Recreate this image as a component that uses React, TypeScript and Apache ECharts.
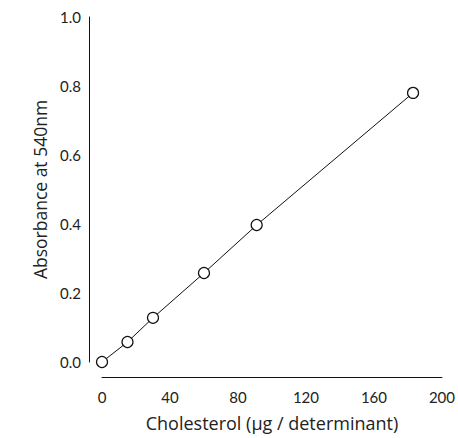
import React, { useEffect, useRef } from "react";
import * as echarts from "echarts";

const cholesterol = [0, 15, 30, 60, 91, 183];
const absorbance = [0.0, 0.058, 0.128, 0.258, 0.397, 0.78];
const xTicks = [0, 40, 80, 120, 160, 200];
const yTicks = [0.0, 0.2, 0.4, 0.6, 0.8, 1.0];

const FONT = "Lato";
const TITLE_FONT = "Open Sans";
const INK = "#222";

export default function App() {
  const ref = useRef<HTMLDivElement>(null);
  useEffect(() => {
    if (!ref.current) return;
    const chart = echarts.init(ref.current, undefined, { renderer: "svg" });
    chart.setOption({
      animation: false,
      backgroundColor: "#fff",
      grid: { left: 102, right: 12, top: 17, bottom: 76 },
      xAxis: {
        type: "value",
        min: xTicks[0],
        max: xTicks[xTicks.length - 1],
        interval: 40,
        offset: 15,
        name: "Cholesterol (μg / determinant)",
        nameLocation: "middle",
        nameGap: 37,
        nameTextStyle: { fontFamily: TITLE_FONT, fontSize: 18, color: INK },
        axisLine: { show: true, onZero: false, lineStyle: { color: "#111", width: 1 } },
        axisTick: { show: false },
        splitLine: { show: false },
        axisLabel: { fontFamily: FONT, fontSize: 15, color: INK, margin: 12 },
      },
      yAxis: {
        type: "value",
        min: yTicks[0],
        max: yTicks[yTicks.length - 1],
        interval: 0.2,
        offset: 13,
        name: "Absorbance at 540nm",
        nameLocation: "middle",
        nameGap: 40,
        nameTextStyle: { fontFamily: TITLE_FONT, fontSize: 17.5, color: INK },
        axisLine: { show: true, onZero: false, lineStyle: { color: "#111", width: 1 } },
        axisTick: { show: false },
        splitLine: { show: false },
        axisLabel: {
          fontFamily: FONT,
          fontSize: 15,
          color: INK,
          margin: 8,
          formatter: (v: number) => v.toFixed(1),
        },
      },
      series: [
        {
          type: "line",
          data: cholesterol.map((x, i) => [x, absorbance[i]]),
          symbol: "circle",
          symbolSize: 11,
          showAllSymbol: true,
          lineStyle: { color: "#111", width: 1 },
          itemStyle: { color: "#fff", borderColor: "#111", borderWidth: 1.2 },
          emphasis: { disabled: true },
        },
      ],
    });
    return () => chart.dispose();
  }, []);
  return (
    <div
      ref={ref}
      style={{ position: "absolute", left: 0, top: 0, width: 458, height: 438 }}
    />
  );
}
